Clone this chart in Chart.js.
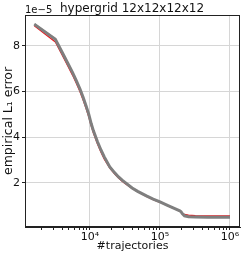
<!DOCTYPE html>
<html>
<head>
<meta charset="utf-8">
<script src="https://cdn.jsdelivr.net/npm/chart.js@4.4.1/dist/chart.umd.min.js"></script>
<style>
  html, body { margin: 0; padding: 0; background: #fff; }
  canvas { display: block; }
</style>
</head>
<body>
<canvas id="l1chart" width="243" height="256"></canvas>
<script>
// values in units of 1e-5
const trajectories = [1600, 3200, 4000, 4800, 5600, 6400, 7200, 8000, 8800, 9600, 10400, 11200, 12800, 14400, 16000, 19200, 22400, 25600, 28800, 32000, 40000, 48000, 64000, 80000, 100000, 128000, 160000, 192000, 200000, 208000, 224000, 256000, 320000, 480000, 640000, 1000000]
const redError   = [8.88, 8.17, 7.60, 7.13, 6.73, 6.35, 5.99, 5.62, 5.25, 4.89, 4.50, 4.18, 3.70, 3.33, 3.04, 2.65, 2.40, 2.21, 2.07, 1.96, 1.76, 1.61, 1.41, 1.27, 1.15, 1.00, 0.87, 0.76, 0.73, 0.68, 0.62, 0.59, 0.57, 0.56, 0.56, 0.56]
const grayError  = [8.95, 8.29, 7.72, 7.25, 6.85, 6.47, 6.11, 5.74, 5.37, 5.01, 4.60, 4.28, 3.80, 3.43, 3.14, 2.70, 2.45, 2.26, 2.12, 2.01, 1.78, 1.63, 1.43, 1.29, 1.17, 1.02, 0.89, 0.78, 0.74, 0.66, 0.56, 0.52, 0.51, 0.50, 0.50, 0.50]
const graySpread = [0.06, 0.08, 0.08, 0.08, 0.08, 0.08, 0.08, 0.08, 0.08, 0.08, 0.07, 0.07, 0.07, 0.06, 0.06, 0.05, 0.05, 0.04, 0.04, 0.04, 0.03, 0.03, 0.03, 0.03, 0.03, 0.02, 0.02, 0.02, 0.02, 0.02, 0.02, 0.02, 0.02, 0.02, 0.02, 0.02]
const yTicks = [2, 4, 6, 8]
const xMajor = [1e4, 1e5, 1e6]
const xMajorLabels = ['10\u2074', '10\u2075', '10\u2076']

const font = 'DejaVu Sans'

const pts = (ys) => trajectories.map((t, i) => ({ x: t, y: ys[i] }))
const upper = pts(grayError.map((v, i) => v + graySpread[i]))
const lower = pts(grayError.map((v, i) => v - graySpread[i]))

const frame = {
  id: 'frame',
  afterDraw(chart) {
    const { ctx, chartArea: a } = chart
    ctx.save()
    ctx.strokeStyle = '#222'
    ctx.lineWidth = 1
    ctx.strokeRect(a.left + 0.5, a.top + 0.5, a.right - a.left - 1, a.bottom - a.top - 1)
    ctx.fillStyle = '#111'
    ctx.font = '12px ' + font
    ctx.textAlign = 'center'
    ctx.textBaseline = 'alphabetic'
    ctx.fillText('hypergrid 12x12x12x12', 132, 12)
    ctx.font = '10px ' + font
    ctx.textAlign = 'left'
    ctx.fillText('1e\u22125', 25, 13)
    ctx.restore()
  }
}

const ctx = document.getElementById('l1chart')

new Chart(ctx, {
  type: 'line',
  data: {
    datasets: [
      { data: upper, borderWidth: 0, pointRadius: 0, fill: false, backgroundColor: 'rgba(128,128,128,0.3)' },
      { data: lower, borderWidth: 0, pointRadius: 0, fill: '-1', backgroundColor: 'rgba(128,128,128,0.3)' },
      { data: pts(grayError), borderColor: '#7f7f7f', borderWidth: 3, pointRadius: 0, fill: false },
      { data: pts(redError), borderColor: '#e8191e', borderWidth: 1.2, pointRadius: 0, fill: false }
    ]
  },
  options: {
    responsive: false,
    animation: false,
    devicePixelRatio: 1,
    layout: { padding: { top: 15, right: 3, left: 0, bottom: 0 } },
    plugins: { legend: { display: false }, tooltip: { enabled: false }, title: { display: false } },
    scales: {
      x: {
        type: 'logarithmic',
        min: 1180,
        max: 1390000,
        afterBuildTicks(scale) {
          const t = []
          for (let e = 3; e <= 6; e++) {
            for (let m = 1; m <= 9; m++) {
              const v = m * Math.pow(10, e)
              if (v >= scale.min && v <= scale.max) t.push({ value: v })
            }
          }
          scale.ticks = t
        },
        afterFit(scale) { scale.height = 29 },
        ticks: {
          autoSkip: false,
          maxRotation: 0,
          padding: 1,
          color: '#111',
          font: { family: font, size: 11 },
          callback(v) {
            const i = xMajor.indexOf(v)
            return i >= 0 ? xMajorLabels[i] : ''
          }
        },
        grid: {
          color: (c) => xMajor.includes(c.tick && c.tick.value) ? '#d6d6d6' : 'rgba(0,0,0,0)',
          tickColor: '#222',
          tickLength: 3
        },
        border: { display: true, color: '#222' },
        title: { display: true, text: '#trajectories', color: '#111', font: { family: font, size: 11 }, padding: { top: 0, bottom: 3 } }
      },
      y: {
        min: 0.07,
        max: 9.35,
        afterBuildTicks(scale) { scale.ticks = yTicks.map(v => ({ value: v })) },
        afterFit(scale) { scale.width = 25 },
        ticks: { padding: 2, color: '#111', font: { family: font, size: 11 } },
        grid: { color: '#d6d6d6', tickColor: '#222', tickLength: 3 },
        border: { display: true, color: '#222' },
        title: { display: true, text: 'empirical L\u2081 error', color: '#111', font: { family: font, size: 12.5 }, padding: { top: 1, bottom: 0 } }
      }
    }
  },
  plugins: [frame]
})
</script>
</body>
</html>
